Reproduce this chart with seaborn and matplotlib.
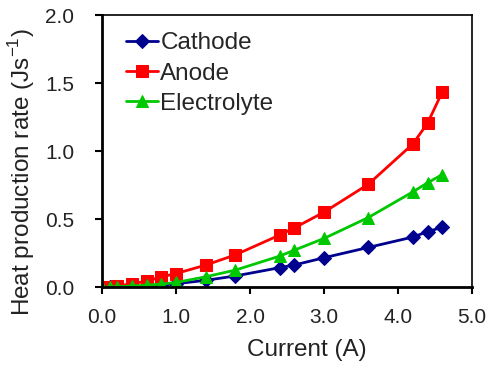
import pandas as pd
import matplotlib.pyplot as plt
import seaborn as sns

# Current (A)
current = [0.0, 0.1, 0.2, 0.4, 0.6, 0.8, 1.0, 1.4, 1.8, 2.4, 2.6, 3.0, 3.6, 4.2, 4.4, 4.6]

# Heat production rate (J/s)
cathode = [0.0, 0.0, 0.002, 0.005, 0.010, 0.016, 0.025, 0.050, 0.082, 0.143, 0.163, 0.216, 0.292, 0.368, 0.408, 0.440]
anode = [0.0, 0.002, 0.008, 0.025, 0.044, 0.075, 0.100, 0.162, 0.237, 0.383, 0.436, 0.551, 0.757, 1.052, 1.205, 1.436]
electrolyte = [0.0, 0.0, 0.003, 0.008, 0.014, 0.022, 0.034, 0.076, 0.125, 0.228, 0.272, 0.358, 0.512, 0.700, 0.767, 0.828]

series = {"Cathode": cathode, "Anode": anode, "Electrolyte": electrolyte}
colors = {"Cathode": "#00008F", "Anode": "#FF0000", "Electrolyte": "#00C800"}
markers = {"Cathode": "D", "Anode": "s", "Electrolyte": "^"}
sizes = {"Cathode": 7, "Anode": 9, "Electrolyte": 9}

df = pd.concat(
    [pd.DataFrame({"current": current, "rate": vals, "part": name})
     for name, vals in series.items()],
    ignore_index=True,
)

sns.set_theme(style="white")
plt.rcParams["font.family"] = ["Liberation Sans", "DejaVu Sans"]
plt.rcParams["mathtext.fontset"] = "custom"
plt.rcParams["mathtext.rm"] = "Liberation Sans"

fig = plt.figure(figsize=(4.89, 3.70), dpi=100)
ax = fig.add_axes([0.209, 0.224, 0.756, 0.735])

for name in series:
    sns.lineplot(
        data=df[df["part"] == name], x="current", y="rate",
        color=colors[name], marker=markers[name], markersize=sizes[name],
        markeredgecolor=colors[name], linewidth=2, label=name, ax=ax,
    )

ax.set_xlim(0, 5)
ax.set_ylim(0, 2)
ax.set_xticks([0, 1, 2, 3, 4, 5])
ax.set_xticklabels(["0.0", "1.0", "2.0", "3.0", "4.0", "5.0"])
ax.set_yticks([0, 0.5, 1.0, 1.5, 2.0])
ax.set_yticklabels(["0.0", "0.5", "1.0", "1.5", "2.0"])
ax.tick_params(direction="out", length=5, width=1.5, labelsize=15,
               colors="black", labelcolor="#222222",
               bottom=True, left=True)
ax.tick_params(axis="x", pad=10)
ax.tick_params(axis="y", pad=15)
for side in ["left", "bottom"]:
    ax.spines[side].set_linewidth(2)
for side in ["top", "right"]:
    ax.spines[side].set_linewidth(1.2)
for sp in ax.spines.values():
    sp.set_color("black")

# Excel-style labels sit a little off-centre
ax.set_xlabel("Current (A)", fontsize=17.5, color="#222222")
ax.set_ylabel("Heat production rate (Js$^{-1}$)", fontsize=17.5,
              color="#222222")
ax.xaxis.set_label_coords(0.553, -0.19)
ax.yaxis.set_label_coords(-0.176, 0.423)

ax.legend(loc="upper left", frameon=False, fontsize=17.5,
          handlelength=1.3, handletextpad=0.1, labelspacing=0.34,
          borderpad=0, borderaxespad=0, bbox_to_anchor=(0.065, 0.937))

fig.savefig("out.png", dpi=100)
